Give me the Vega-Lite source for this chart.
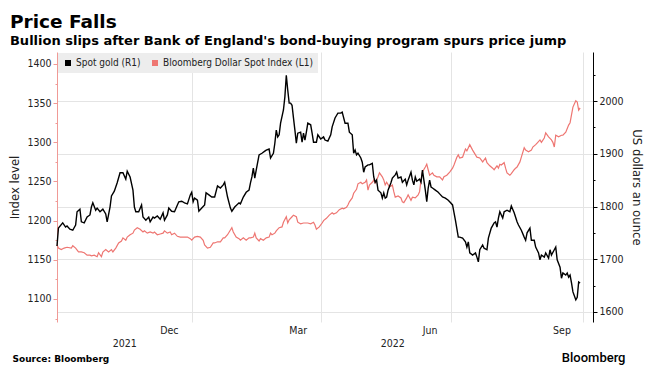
{
  "$schema": "https://vega.github.io/schema/vega-lite/v6.json",
  "width": 536,
  "height": 270,
  "autosize": {"type": "none"},
  "padding": {"left": 57, "top": 52, "right": 59, "bottom": 52},
  "background": "white",
  "config": {"view": {"stroke": null}},
  "title": {
    "text": "Price Falls",
    "subtitle": "Bullion slips after Bank of England's bond-buying program spurs price jump",
    "anchor": "start",
    "frame": "bounds",
    "dx": 1,
    "offset": 4,
    "font": "DejaVu Sans",
    "fontSize": 18.5,
    "fontWeight": "bold",
    "color": "#000000",
    "subtitleFont": "DejaVu Sans",
    "subtitleFontSize": 13,
    "subtitleFontWeight": "bold",
    "subtitleColor": "#000000",
    "subtitlePadding": 4
  },
  "datasets": {
    "gold": [
      {"date":"2021-09-29","price":1725},{"date":"2021-09-30","price":1759},{"date":"2021-10-03","price":1769},{"date":"2021-10-05","price":1761},{"date":"2021-10-06","price":1763},{"date":"2021-10-08","price":1757},{"date":"2021-10-10","price":1755},{"date":"2021-10-12","price":1765},{"date":"2021-10-13","price":1790},{"date":"2021-10-15","price":1795},{"date":"2021-10-16","price":1771},{"date":"2021-10-18","price":1769},{"date":"2021-10-20","price":1780},{"date":"2021-10-22","price":1784},{"date":"2021-10-23","price":1799},{"date":"2021-10-24","price":1807},{"date":"2021-10-26","price":1793},{"date":"2021-10-27","price":1797},{"date":"2021-10-29","price":1790},{"date":"2021-10-31","price":1795},
      {"date":"2021-11-02","price":1786},{"date":"2021-11-03","price":1771},{"date":"2021-11-05","price":1799},{"date":"2021-11-06","price":1820},{"date":"2021-11-08","price":1829},{"date":"2021-11-10","price":1845},{"date":"2021-11-12","price":1864},{"date":"2021-11-14","price":1864},{"date":"2021-11-16","price":1852},{"date":"2021-11-17","price":1867},{"date":"2021-11-19","price":1856},{"date":"2021-11-21","price":1831},{"date":"2021-11-22","price":1799},{"date":"2021-11-23","price":1790},{"date":"2021-11-25","price":1790},{"date":"2021-11-27","price":1803},{"date":"2021-11-28","price":1780},{"date":"2021-11-30","price":1774},
      {"date":"2021-12-02","price":1780},{"date":"2021-12-03","price":1771},{"date":"2021-12-05","price":1780},{"date":"2021-12-06","price":1778},{"date":"2021-12-08","price":1782},{"date":"2021-12-10","price":1776},{"date":"2021-12-12","price":1788},{"date":"2021-12-13","price":1774},{"date":"2021-12-15","price":1784},{"date":"2021-12-16","price":1797},{"date":"2021-12-18","price":1791},{"date":"2021-12-20","price":1790},{"date":"2021-12-22","price":1803},{"date":"2021-12-23","price":1809},{"date":"2021-12-25","price":1810},{"date":"2021-12-27","price":1807},{"date":"2021-12-29","price":1805},{"date":"2021-12-31","price":1822},
      {"date":"2022-01-01","price":1827},{"date":"2022-01-02","price":1809},{"date":"2022-01-03","price":1816},{"date":"2022-01-05","price":1812},{"date":"2022-01-06","price":1791},{"date":"2022-01-08","price":1797},{"date":"2022-01-10","price":1803},{"date":"2022-01-11","price":1826},{"date":"2022-01-13","price":1822},{"date":"2022-01-15","price":1818},{"date":"2022-01-17","price":1818},{"date":"2022-01-19","price":1839},{"date":"2022-01-21","price":1835},{"date":"2022-01-23","price":1841},{"date":"2022-01-24","price":1846},{"date":"2022-01-26","price":1818},{"date":"2022-01-28","price":1797},{"date":"2022-01-29","price":1791},{"date":"2022-01-31","price":1799},
      {"date":"2022-02-03","price":1807},{"date":"2022-02-04","price":1805},{"date":"2022-02-06","price":1818},{"date":"2022-02-08","price":1827},{"date":"2022-02-10","price":1831},{"date":"2022-02-11","price":1845},{"date":"2022-02-12","price":1856},{"date":"2022-02-13","price":1873},{"date":"2022-02-14","price":1854},{"date":"2022-02-15","price":1869},{"date":"2022-02-17","price":1898},{"date":"2022-02-19","price":1901},{"date":"2022-02-21","price":1905},{"date":"2022-02-22","price":1907},{"date":"2022-02-24","price":1909},{"date":"2022-02-25","price":1892},{"date":"2022-02-27","price":1901},{"date":"2022-02-28","price":1920},
      {"date":"2022-03-01","price":1945},{"date":"2022-03-02","price":1932},{"date":"2022-03-03","price":1936},{"date":"2022-03-04","price":1958},{"date":"2022-03-06","price":1983},{"date":"2022-03-07","price":2008},{"date":"2022-03-08","price":2049},{"date":"2022-03-09","price":2021},{"date":"2022-03-10","price":1996},{"date":"2022-03-11","price":1996},{"date":"2022-03-12","price":1992},{"date":"2022-03-13","price":1968},{"date":"2022-03-14","price":1945},{"date":"2022-03-15","price":1920},{"date":"2022-03-16","price":1939},{"date":"2022-03-18","price":1941},{"date":"2022-03-19","price":1922},{"date":"2022-03-20","price":1939},{"date":"2022-03-21","price":1926},{"date":"2022-03-22","price":1941},{"date":"2022-03-23","price":1958},{"date":"2022-03-25","price":1955},{"date":"2022-03-26","price":1939},{"date":"2022-03-27","price":1922},{"date":"2022-03-29","price":1922},{"date":"2022-03-30","price":1936},
      {"date":"2022-04-01","price":1928},{"date":"2022-04-03","price":1932},{"date":"2022-04-04","price":1926},{"date":"2022-04-06","price":1924},{"date":"2022-04-08","price":1936},{"date":"2022-04-09","price":1951},{"date":"2022-04-11","price":1968},{"date":"2022-04-13","price":1977},{"date":"2022-04-15","price":1977},{"date":"2022-04-16","price":1979},{"date":"2022-04-18","price":1958},{"date":"2022-04-20","price":1958},{"date":"2022-04-21","price":1941},{"date":"2022-04-23","price":1936},{"date":"2022-04-24","price":1901},{"date":"2022-04-25","price":1907},{"date":"2022-04-26","price":1898},{"date":"2022-04-27","price":1901},{"date":"2022-04-29","price":1892},{"date":"2022-04-30","price":1884},
      {"date":"2022-05-01","price":1865},{"date":"2022-05-02","price":1875},{"date":"2022-05-04","price":1879},{"date":"2022-05-05","price":1879},{"date":"2022-05-07","price":1882},{"date":"2022-05-08","price":1856},{"date":"2022-05-09","price":1846},{"date":"2022-05-10","price":1850},{"date":"2022-05-11","price":1831},{"date":"2022-05-13","price":1826},{"date":"2022-05-14","price":1816},{"date":"2022-05-15","price":1826},{"date":"2022-05-16","price":1816},{"date":"2022-05-17","price":1818},{"date":"2022-05-18","price":1831},{"date":"2022-05-20","price":1845},{"date":"2022-05-21","price":1854},{"date":"2022-05-23","price":1860},{"date":"2022-05-24","price":1865},{"date":"2022-05-25","price":1854},{"date":"2022-05-27","price":1856},{"date":"2022-05-28","price":1846},{"date":"2022-05-30","price":1852},{"date":"2022-05-31","price":1841},
      {"date":"2022-06-01","price":1850},{"date":"2022-06-03","price":1865},{"date":"2022-06-04","price":1850},{"date":"2022-06-05","price":1841},{"date":"2022-06-06","price":1856},{"date":"2022-06-07","price":1848},{"date":"2022-06-09","price":1852},{"date":"2022-06-10","price":1846},{"date":"2022-06-11","price":1869},{"date":"2022-06-12","price":1850},{"date":"2022-06-13","price":1831},{"date":"2022-06-14","price":1809},{"date":"2022-06-15","price":1835},{"date":"2022-06-16","price":1850},{"date":"2022-06-17","price":1837},{"date":"2022-06-18","price":1835},{"date":"2022-06-20","price":1831},{"date":"2022-06-22","price":1827},{"date":"2022-06-23","price":1824},{"date":"2022-06-25","price":1818},{"date":"2022-06-27","price":1816},{"date":"2022-06-29","price":1812},{"date":"2022-06-30","price":1809},
      {"date":"2022-07-02","price":1803},{"date":"2022-07-04","price":1774},{"date":"2022-07-06","price":1742},{"date":"2022-07-07","price":1742},{"date":"2022-07-09","price":1740},{"date":"2022-07-11","price":1733},{"date":"2022-07-12","price":1723},{"date":"2022-07-13","price":1733},{"date":"2022-07-14","price":1712},{"date":"2022-07-16","price":1708},{"date":"2022-07-18","price":1712},{"date":"2022-07-19","price":1704},{"date":"2022-07-20","price":1695},{"date":"2022-07-21","price":1718},{"date":"2022-07-23","price":1727},{"date":"2022-07-24","price":1721},{"date":"2022-07-26","price":1718},{"date":"2022-07-27","price":1740},{"date":"2022-07-29","price":1759},{"date":"2022-07-31","price":1769},
      {"date":"2022-08-01","price":1771},{"date":"2022-08-02","price":1761},{"date":"2022-08-03","price":1778},{"date":"2022-08-04","price":1790},{"date":"2022-08-06","price":1778},{"date":"2022-08-07","price":1790},{"date":"2022-08-09","price":1793},{"date":"2022-08-11","price":1790},{"date":"2022-08-12","price":1801},{"date":"2022-08-14","price":1788},{"date":"2022-08-16","price":1771},{"date":"2022-08-17","price":1765},{"date":"2022-08-19","price":1755},{"date":"2022-08-21","price":1742},{"date":"2022-08-22","price":1736},{"date":"2022-08-23","price":1750},{"date":"2022-08-25","price":1759},{"date":"2022-08-26","price":1736},{"date":"2022-08-28","price":1736},{"date":"2022-08-29","price":1723},{"date":"2022-08-31","price":1712},
      {"date":"2022-09-01","price":1699},{"date":"2022-09-02","price":1708},{"date":"2022-09-04","price":1704},{"date":"2022-09-05","price":1712},{"date":"2022-09-07","price":1702},{"date":"2022-09-08","price":1718},{"date":"2022-09-09","price":1708},{"date":"2022-09-11","price":1718},{"date":"2022-09-12","price":1723},{"date":"2022-09-13","price":1699},{"date":"2022-09-15","price":1685},{"date":"2022-09-16","price":1664},{"date":"2022-09-17","price":1674},{"date":"2022-09-19","price":1670},{"date":"2022-09-20","price":1674},{"date":"2022-09-21","price":1666},{"date":"2022-09-22","price":1670},{"date":"2022-09-23","price":1655},{"date":"2022-09-24","price":1638},{"date":"2022-09-26","price":1623},{"date":"2022-09-27","price":1628},{"date":"2022-09-28","price":1657},{"date":"2022-09-29","price":1655}
    ],
    "dxy": [
      {"date":"2021-09-29","index":1169},{"date":"2021-09-30","index":1165},{"date":"2021-10-02","index":1163},{"date":"2021-10-04","index":1165},{"date":"2021-10-06","index":1166},{"date":"2021-10-09","index":1165},{"date":"2021-10-10","index":1168},{"date":"2021-10-12","index":1165},{"date":"2021-10-14","index":1160},{"date":"2021-10-16","index":1160},{"date":"2021-10-18","index":1159},{"date":"2021-10-20","index":1156},{"date":"2021-10-22","index":1156},{"date":"2021-10-23","index":1155},{"date":"2021-10-25","index":1156},{"date":"2021-10-27","index":1154},{"date":"2021-10-28","index":1159},{"date":"2021-10-30","index":1154},{"date":"2021-10-31","index":1160},
      {"date":"2021-11-02","index":1163},{"date":"2021-11-04","index":1160},{"date":"2021-11-06","index":1163},{"date":"2021-11-07","index":1160},{"date":"2021-11-09","index":1165},{"date":"2021-11-11","index":1171.5},{"date":"2021-11-13","index":1174},{"date":"2021-11-14","index":1178},{"date":"2021-11-16","index":1175},{"date":"2021-11-17","index":1179},{"date":"2021-11-19","index":1182},{"date":"2021-11-21","index":1184},{"date":"2021-11-22","index":1188},{"date":"2021-11-24","index":1191},{"date":"2021-11-26","index":1189},{"date":"2021-11-28","index":1185.5},{"date":"2021-11-29","index":1187},
      {"date":"2021-12-01","index":1184},{"date":"2021-12-03","index":1185.5},{"date":"2021-12-05","index":1184},{"date":"2021-12-06","index":1185.5},{"date":"2021-12-08","index":1182},{"date":"2021-12-10","index":1183},{"date":"2021-12-12","index":1184},{"date":"2021-12-13","index":1187},{"date":"2021-12-15","index":1184},{"date":"2021-12-17","index":1185.5},{"date":"2021-12-18","index":1182},{"date":"2021-12-20","index":1184},{"date":"2021-12-22","index":1180},{"date":"2021-12-24","index":1179},{"date":"2021-12-26","index":1179},{"date":"2021-12-29","index":1179},{"date":"2021-12-31","index":1177},
      {"date":"2022-01-01","index":1175},{"date":"2022-01-03","index":1179},{"date":"2022-01-05","index":1180},{"date":"2022-01-07","index":1179},{"date":"2022-01-09","index":1175},{"date":"2022-01-10","index":1169},{"date":"2022-01-12","index":1165},{"date":"2022-01-14","index":1166},{"date":"2022-01-16","index":1171.5},{"date":"2022-01-17","index":1171.5},{"date":"2022-01-19","index":1173},{"date":"2022-01-21","index":1173},{"date":"2022-01-23","index":1178},{"date":"2022-01-24","index":1178},{"date":"2022-01-26","index":1182},{"date":"2022-01-28","index":1188},{"date":"2022-01-29","index":1191},{"date":"2022-01-30","index":1185.5},
      {"date":"2022-02-01","index":1179},{"date":"2022-02-03","index":1177},{"date":"2022-02-04","index":1175},{"date":"2022-02-06","index":1178},{"date":"2022-02-08","index":1175},{"date":"2022-02-10","index":1178},{"date":"2022-02-11","index":1178},{"date":"2022-02-13","index":1179},{"date":"2022-02-14","index":1184},{"date":"2022-02-15","index":1178},{"date":"2022-02-17","index":1174},{"date":"2022-02-18","index":1177},{"date":"2022-02-20","index":1175},{"date":"2022-02-22","index":1178},{"date":"2022-02-24","index":1179},{"date":"2022-02-25","index":1184},{"date":"2022-02-26","index":1182},{"date":"2022-02-28","index":1184},
      {"date":"2022-03-01","index":1187},{"date":"2022-03-03","index":1191},{"date":"2022-03-05","index":1192},{"date":"2022-03-06","index":1198},{"date":"2022-03-08","index":1205},{"date":"2022-03-09","index":1197},{"date":"2022-03-10","index":1201},{"date":"2022-03-12","index":1205},{"date":"2022-03-13","index":1207},{"date":"2022-03-15","index":1205},{"date":"2022-03-16","index":1198},{"date":"2022-03-18","index":1196},{"date":"2022-03-20","index":1197},{"date":"2022-03-22","index":1197},{"date":"2022-03-23","index":1197},{"date":"2022-03-25","index":1196},{"date":"2022-03-27","index":1198},{"date":"2022-03-28","index":1194.5},{"date":"2022-03-29","index":1189},{"date":"2022-03-31","index":1192},
      {"date":"2022-04-02","index":1197},{"date":"2022-04-03","index":1200},{"date":"2022-04-05","index":1203},{"date":"2022-04-07","index":1207},{"date":"2022-04-09","index":1210},{"date":"2022-04-10","index":1208.5},{"date":"2022-04-12","index":1210},{"date":"2022-04-14","index":1214},{"date":"2022-04-16","index":1216},{"date":"2022-04-17","index":1215},{"date":"2022-04-19","index":1217},{"date":"2022-04-20","index":1220},{"date":"2022-04-21","index":1224},{"date":"2022-04-23","index":1229},{"date":"2022-04-24","index":1235},{"date":"2022-04-26","index":1240},{"date":"2022-04-27","index":1247},{"date":"2022-04-29","index":1249},{"date":"2022-04-30","index":1247},
      {"date":"2022-05-02","index":1249},{"date":"2022-05-03","index":1252},{"date":"2022-05-04","index":1239},{"date":"2022-05-05","index":1245.5},{"date":"2022-05-07","index":1249},{"date":"2022-05-08","index":1252},{"date":"2022-05-09","index":1248},{"date":"2022-05-11","index":1256},{"date":"2022-05-12","index":1261},{"date":"2022-05-14","index":1256},{"date":"2022-05-15","index":1252},{"date":"2022-05-16","index":1245.5},{"date":"2022-05-17","index":1249},{"date":"2022-05-19","index":1243},{"date":"2022-05-21","index":1245.5},{"date":"2022-05-22","index":1237},{"date":"2022-05-23","index":1230},{"date":"2022-05-25","index":1231.5},{"date":"2022-05-27","index":1229},{"date":"2022-05-28","index":1224},{"date":"2022-05-29","index":1223},{"date":"2022-05-31","index":1229},
      {"date":"2022-06-01","index":1233},{"date":"2022-06-03","index":1226},{"date":"2022-06-04","index":1230},{"date":"2022-06-06","index":1229},{"date":"2022-06-08","index":1233},{"date":"2022-06-09","index":1237},{"date":"2022-06-10","index":1252},{"date":"2022-06-11","index":1262},{"date":"2022-06-13","index":1268.5},{"date":"2022-06-14","index":1272},{"date":"2022-06-15","index":1265},{"date":"2022-06-16","index":1258},{"date":"2022-06-18","index":1261},{"date":"2022-06-19","index":1258},{"date":"2022-06-21","index":1256},{"date":"2022-06-23","index":1256},{"date":"2022-06-25","index":1252},{"date":"2022-06-26","index":1256},{"date":"2022-06-28","index":1258},{"date":"2022-06-30","index":1262},
      {"date":"2022-07-02","index":1267},{"date":"2022-07-03","index":1271},{"date":"2022-07-05","index":1281},{"date":"2022-07-06","index":1284},{"date":"2022-07-07","index":1280},{"date":"2022-07-09","index":1281},{"date":"2022-07-11","index":1291.5},{"date":"2022-07-12","index":1289},{"date":"2022-07-14","index":1297},{"date":"2022-07-16","index":1290},{"date":"2022-07-18","index":1284},{"date":"2022-07-19","index":1281},{"date":"2022-07-21","index":1280},{"date":"2022-07-23","index":1275},{"date":"2022-07-25","index":1280},{"date":"2022-07-26","index":1274},{"date":"2022-07-28","index":1270},{"date":"2022-07-30","index":1267},{"date":"2022-07-31","index":1265},
      {"date":"2022-08-02","index":1270},{"date":"2022-08-03","index":1267},{"date":"2022-08-04","index":1272},{"date":"2022-08-05","index":1271},{"date":"2022-08-07","index":1274},{"date":"2022-08-08","index":1267},{"date":"2022-08-09","index":1261},{"date":"2022-08-11","index":1258},{"date":"2022-08-12","index":1260},{"date":"2022-08-14","index":1265},{"date":"2022-08-15","index":1267},{"date":"2022-08-16","index":1268.5},{"date":"2022-08-18","index":1275},{"date":"2022-08-19","index":1281},{"date":"2022-08-21","index":1293},{"date":"2022-08-22","index":1290},{"date":"2022-08-24","index":1288},{"date":"2022-08-26","index":1290},{"date":"2022-08-27","index":1294},{"date":"2022-08-29","index":1297},{"date":"2022-08-30","index":1299},
      {"date":"2022-09-01","index":1303},{"date":"2022-09-02","index":1300},{"date":"2022-09-04","index":1305.5},{"date":"2022-09-05","index":1312},{"date":"2022-09-07","index":1307},{"date":"2022-09-09","index":1303},{"date":"2022-09-10","index":1300},{"date":"2022-09-11","index":1294},{"date":"2022-09-12","index":1309},{"date":"2022-09-14","index":1307},{"date":"2022-09-16","index":1309},{"date":"2022-09-17","index":1309},{"date":"2022-09-19","index":1313},{"date":"2022-09-21","index":1322},{"date":"2022-09-22","index":1325},{"date":"2022-09-23","index":1335},{"date":"2022-09-24","index":1345},{"date":"2022-09-26","index":1353},{"date":"2022-09-27","index":1351.5},{"date":"2022-09-28","index":1341},{"date":"2022-09-29","index":1344}
    ]
  },
  "layer": [
    {
      "data": {"name": "dxy"},
      "mark": {"type": "line", "strokeWidth": 1.2},
      "encoding": {
        "x": {
          "field": "date", "type": "temporal",
          "scale": {"type": "utc", "nice": false, "domain": [{"year": 2021, "month": 9, "date": 29, "utc": true}, {"year": 2022, "month": 10, "date": 8, "utc": true}]},
          "axis": {
            "orient": "bottom",
            "values": [
              {"year": 2022, "month": 1, "date": 1, "utc": true},
              {"year": 2022, "month": 4, "date": 1, "utc": true},
              {"year": 2022, "month": 7, "date": 1, "utc": true},
              {"year": 2022, "month": 10, "date": 1, "utc": true},
              {"year": 2021, "month": 12, "date": 16, "utc": true},
              {"year": 2022, "month": 3, "date": 16, "utc": true},
              {"year": 2022, "month": 6, "date": 16, "utc": true},
              {"year": 2022, "month": 9, "date": 16, "utc": true},
              {"year": 2021, "month": 11, "date": 15, "utc": true},
              {"year": 2022, "month": 5, "date": 21, "utc": true}
            ],
            "labelExpr": "utcdate(datum.value) === 1 ? '' : (utcdate(datum.value) === 16 ? utcFormat(datum.value, '%b') : ['', utcFormat(datum.value, '%Y')])",
            "grid": true,
            "gridColor": "#e4e4e4",
            "gridOpacity": {"condition": {"test": "utcdate(datum.value) === 1", "value": 1}, "value": 0},
            "ticks": false,
            "domain": false,
            "labelOverlap": false,
            "labelFlush": false,
            "labelBound": false,
            "labelPadding": 3,
            "labelBaseline": "top",
            "labelLineHeight": 13.5,
            "labelFont": "DejaVu Sans Condensed, DejaVu Sans, sans-serif",
            "labelFontSize": 10.5,
            "labelColor": "#222222",
            "title": "Source: Bloomberg",
            "titleX": -45,
            "titleY": 39,
            "titleAlign": "left",
            "titleBaseline": "alphabetic",
            "titleAngle": 0,
            "titleFont": "DejaVu Sans",
            "titleFontSize": 9,
            "titleFontWeight": "bold",
            "titleColor": "#000000"
          }
        },
        "y": {
          "field": "index", "type": "quantitative",
          "scale": {"domain": [1070.6, 1415.3], "nice": false, "zero": false},
          "axis": {
            "orient": "left",
            "values": [1075, 1100, 1125, 1150, 1175, 1200, 1225, 1250, 1275, 1300, 1325, 1350, 1375, 1400],
            "format": "d",
            "labelExpr": "datum.value % 50 === 0 ? datum.label : ''",
            "grid": false,
            "domainColor": "#f09a96",
            "tickColor": "#f09a96",
            "tickSize": {"condition": {"test": "datum.value % 50 === 0", "value": 4}, "value": 2},
            "labelPadding": 2,
            "labelFont": "DejaVu Sans Condensed, DejaVu Sans, sans-serif",
            "labelFontSize": 10.5,
            "labelColor": "#222222",
            "title": "Index level",
            "titleFont": "DejaVu Sans Condensed, DejaVu Sans, sans-serif",
            "titleFontSize": 13,
            "titleFontWeight": "normal",
            "titleColor": "#222222",
            "titlePadding": 5
          }
        },
        "color": {
          "datum": "Bloomberg Dollar Spot Index (L1)",
          "type": "nominal",
          "scale": {"domain": ["Spot gold (R1)", "Bloomberg Dollar Spot Index (L1)"], "range": ["#000000", "#ee7672"]},
          "legend": {
            "orient": "none",
            "legendX": 1,
            "legendY": 1,
            "direction": "horizontal",
            "title": null,
            "fillColor": "#ededed",
            "padding": 5,
            "symbolType": "square",
            "symbolSize": 36,
            "symbolStrokeWidth": 0,
            "labelFont": "DejaVu Sans Condensed, DejaVu Sans, sans-serif",
            "labelFontSize": 10,
            "labelColor": "#222222",
            "labelOffset": 3,
            "columnPadding": 9,
            "encode": {"symbols": {"update": {"fill": {"scale": "color", "field": "value"}, "opacity": {"value": 1}}}}
          }
        }
      }
    },
    {
      "data": {"name": "gold"},
      "mark": {"type": "line", "strokeWidth": 1.4},
      "encoding": {
        "x": {
          "field": "date", "type": "temporal",
          "axis": {
            "orient": "top",
            "labels": false,
            "ticks": false,
            "domain": false,
            "grid": false,
            "title": "Bloomberg",
            "titleX": 568,
            "titleY": 309,
            "titleAlign": "right",
            "titleBaseline": "alphabetic",
            "titleAngle": 0,
            "titleFont": "Roboto",
            "titleFontSize": 13,
            "titleFontWeight": 500,
            "titleColor": "#000000"
          }
        },
        "y": {
          "field": "price", "type": "quantitative",
          "scale": {"domain": [1581, 2093], "nice": false, "zero": false},
          "axis": {
            "orient": "right",
            "values": [1600, 1650, 1700, 1750, 1800, 1850, 1900, 1950, 2000, 2050],
            "format": "d",
            "labelExpr": "datum.value % 100 === 0 ? datum.label : ''",
            "grid": true,
            "gridColor": "#e4e4e4",
            "gridOpacity": {"condition": {"test": "datum.value % 100 === 0", "value": 1}, "value": 0},
            "domainColor": "#000000",
            "tickColor": "#000000",
            "tickSize": {"condition": {"test": "datum.value % 100 === 0", "value": 4}, "value": 2},
            "labelPadding": 2,
            "labelFont": "DejaVu Sans Condensed, DejaVu Sans, sans-serif",
            "labelFontSize": 10.5,
            "labelColor": "#222222",
            "title": "US dollars an ounce",
            "titleAngle": 90,
            "titleFont": "DejaVu Sans Condensed, DejaVu Sans, sans-serif",
            "titleFontSize": 13,
            "titleFontWeight": "normal",
            "titleColor": "#222222",
            "titlePadding": 6
          }
        },
        "color": {"datum": "Spot gold (R1)", "type": "nominal"}
      }
    }
  ],
  "resolve": {"scale": {"y": "independent"}, "axis": {"x": "independent"}}
}
